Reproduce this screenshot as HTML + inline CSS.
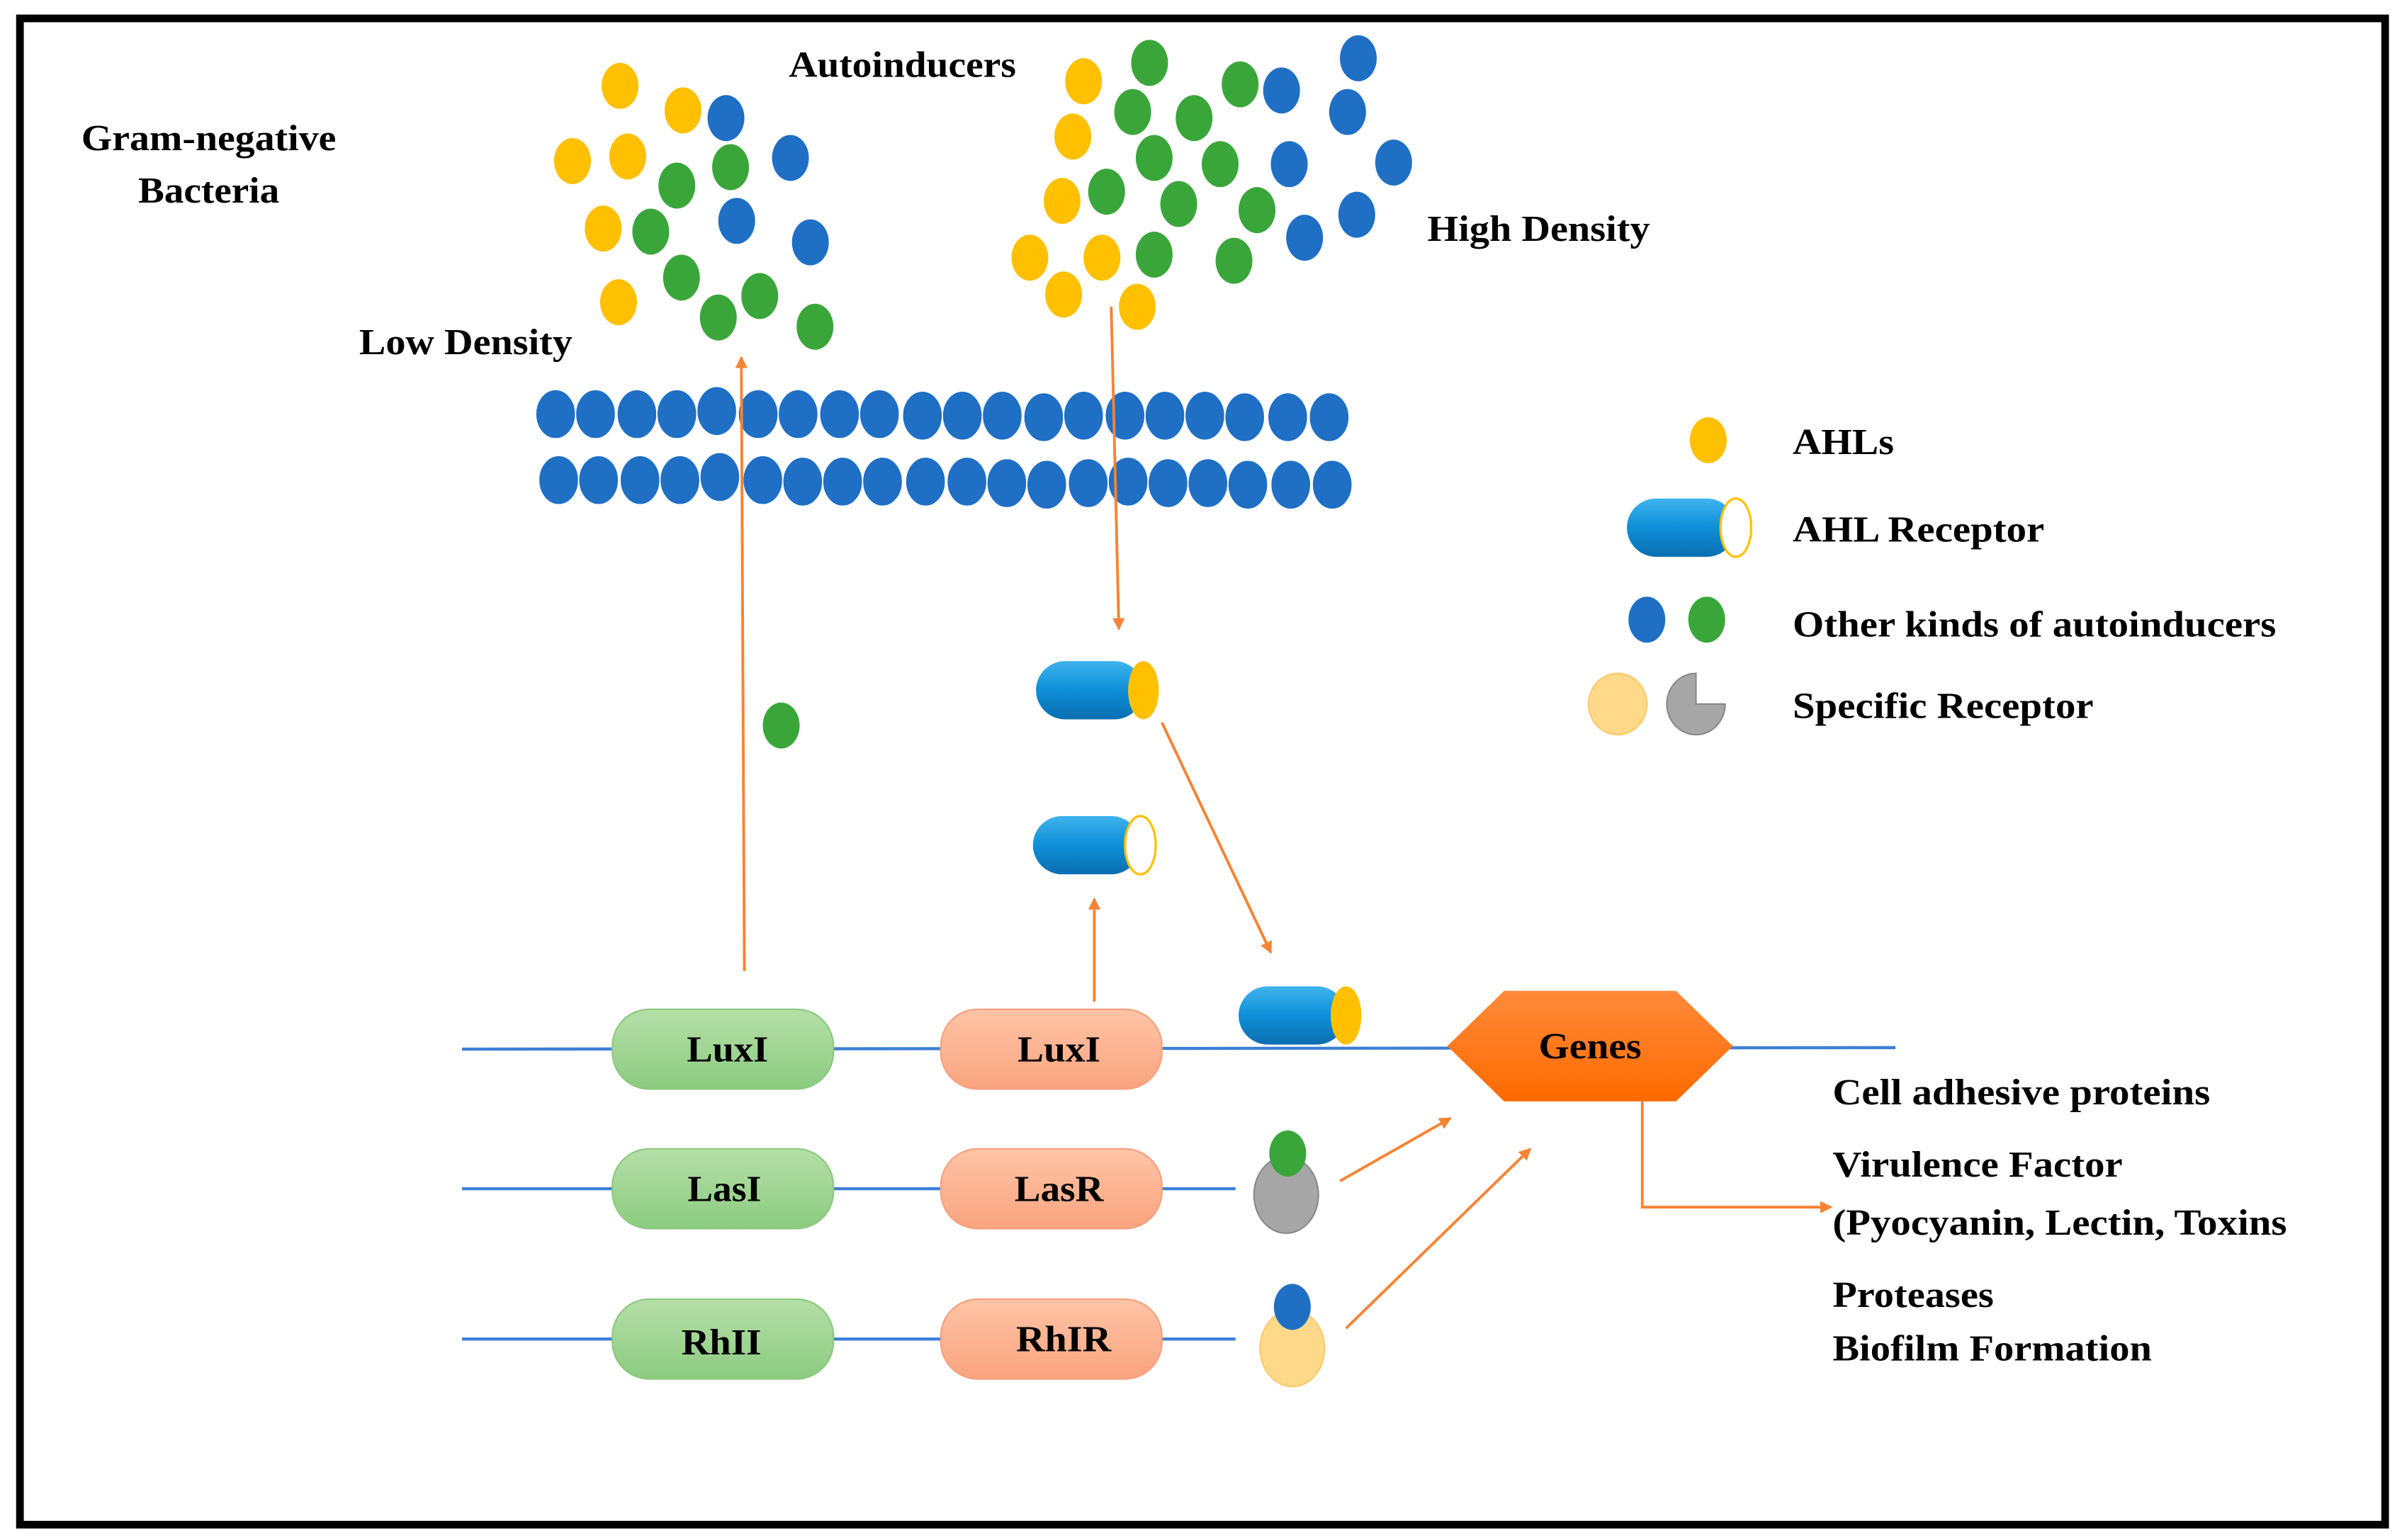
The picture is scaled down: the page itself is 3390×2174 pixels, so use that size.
<!DOCTYPE html>
<html><head><meta charset="utf-8"><style>html,body{margin:0;padding:0;background:#fff}svg{display:block}</style></head>
<body>
<svg width="3390" height="2174" viewBox="0 0 1565 1004" preserveAspectRatio="none" xmlns="http://www.w3.org/2000/svg">
<defs>
<linearGradient id="cyl" x1="0" y1="0" x2="0" y2="1"><stop offset="0" stop-color="#3FB4EE"/><stop offset="0.5" stop-color="#0E8FD8"/><stop offset="1" stop-color="#0A6FB0"/></linearGradient>
<linearGradient id="gr" x1="0" y1="0" x2="0" y2="1"><stop offset="0" stop-color="#B5DFA8"/><stop offset="1" stop-color="#8CCB80"/></linearGradient>
<linearGradient id="pk" x1="0" y1="0" x2="0" y2="1"><stop offset="0" stop-color="#FFC4A6"/><stop offset="1" stop-color="#F9A47F"/></linearGradient>
<linearGradient id="or" x1="0" y1="0" x2="0" y2="1"><stop offset="0" stop-color="#FF8A3A"/><stop offset="1" stop-color="#FF6A00"/></linearGradient>
<marker id="ah" markerWidth="8" markerHeight="8" refX="7" refY="4" orient="auto" markerUnits="userSpaceOnUse"><path d="M0,0 L8,4 L0,8 Z" fill="#F58434"/></marker>
</defs>
<rect x="13" y="12" width="1541" height="982" fill="#fff" stroke="#000" stroke-width="5"/>
<g font-family="Liberation Serif, serif" font-weight="bold" font-size="24" fill="#000" lengthAdjust="spacingAndGlyphs">
<text x="53" y="98" textLength="166" lengthAdjust="spacingAndGlyphs">Gram-negative</text>
<text x="90" y="132" textLength="92" lengthAdjust="spacingAndGlyphs">Bacteria</text>
<text x="514" y="50" textLength="148" lengthAdjust="spacingAndGlyphs">Autoinducers</text>
<text x="234" y="231" textLength="139" lengthAdjust="spacingAndGlyphs">Low Density</text>
<text x="930" y="157" textLength="145" lengthAdjust="spacingAndGlyphs">High Density</text>
<text x="1168" y="296" textLength="66" lengthAdjust="spacingAndGlyphs">AHLs</text>
<text x="1168" y="353" textLength="164" lengthAdjust="spacingAndGlyphs">AHL Receptor</text>
<text x="1168" y="415" textLength="315" lengthAdjust="spacingAndGlyphs">Other kinds of autoinducers</text>
<text x="1168" y="468" textLength="196" lengthAdjust="spacingAndGlyphs">Specific Receptor</text>
<text x="1194" y="720" textLength="246" lengthAdjust="spacingAndGlyphs">Cell adhesive proteins</text>
<text x="1194" y="767" textLength="189" lengthAdjust="spacingAndGlyphs">Virulence Factor</text>
<text x="1194" y="805" textLength="296" lengthAdjust="spacingAndGlyphs">(Pyocyanin, Lectin, Toxins</text>
<text x="1194" y="852" textLength="105" lengthAdjust="spacingAndGlyphs">Proteases</text>
<text x="1194" y="887" textLength="208" lengthAdjust="spacingAndGlyphs">Biofilm Formation</text>
</g>
<g fill="#FFC000">
<ellipse cx="404" cy="56" rx="12" ry="15"/><ellipse cx="445" cy="72" rx="12" ry="15"/><ellipse cx="373" cy="105" rx="12" ry="15"/><ellipse cx="409" cy="102" rx="12" ry="15"/><ellipse cx="393" cy="149" rx="12" ry="15"/><ellipse cx="403" cy="197" rx="12" ry="15"/>
<ellipse cx="706" cy="53" rx="12" ry="15"/><ellipse cx="699" cy="89" rx="12" ry="15"/><ellipse cx="692" cy="131" rx="12" ry="15"/><ellipse cx="671" cy="168" rx="12" ry="15"/><ellipse cx="718" cy="168" rx="12" ry="15"/><ellipse cx="693" cy="192" rx="12" ry="15"/><ellipse cx="741" cy="200" rx="12" ry="15"/>
<ellipse cx="1113" cy="287" rx="12" ry="15"/>
</g>
<g fill="#1F6FC5">
<ellipse cx="473" cy="77" rx="12" ry="15"/><ellipse cx="515" cy="103" rx="12" ry="15"/><ellipse cx="480" cy="144" rx="12" ry="15"/><ellipse cx="528" cy="158" rx="12" ry="15"/>
<ellipse cx="885" cy="38" rx="12" ry="15"/><ellipse cx="835" cy="59" rx="12" ry="15"/><ellipse cx="878" cy="73" rx="12" ry="15"/><ellipse cx="908" cy="106" rx="12" ry="15"/><ellipse cx="840" cy="107" rx="12" ry="15"/><ellipse cx="884" cy="140" rx="12" ry="15"/><ellipse cx="850" cy="155" rx="12" ry="15"/>
<ellipse cx="1073" cy="404" rx="12" ry="15"/>
</g>
<g fill="#3AA63A">
<ellipse cx="476" cy="109" rx="12" ry="15"/><ellipse cx="441" cy="121" rx="12" ry="15"/><ellipse cx="424" cy="151" rx="12" ry="15"/><ellipse cx="444" cy="181" rx="12" ry="15"/><ellipse cx="495" cy="193" rx="12" ry="15"/><ellipse cx="468" cy="207" rx="12" ry="15"/><ellipse cx="531" cy="213" rx="12" ry="15"/>
<ellipse cx="749" cy="41" rx="12" ry="15"/><ellipse cx="738" cy="73" rx="12" ry="15"/><ellipse cx="808" cy="55" rx="12" ry="15"/><ellipse cx="778" cy="77" rx="12" ry="15"/><ellipse cx="752" cy="103" rx="12" ry="15"/><ellipse cx="795" cy="107" rx="12" ry="15"/><ellipse cx="721" cy="125" rx="12" ry="15"/><ellipse cx="768" cy="133" rx="12" ry="15"/><ellipse cx="819" cy="137" rx="12" ry="15"/><ellipse cx="752" cy="166" rx="12" ry="15"/><ellipse cx="804" cy="170" rx="12" ry="15"/>
<ellipse cx="1112" cy="404" rx="12" ry="15"/>
<ellipse cx="509" cy="473" rx="12" ry="15"/>
</g>
<g fill="#1F6FC5" stroke="#fff" stroke-width="0.8">
<ellipse cx="362" cy="270" rx="13" ry="16"/><ellipse cx="388" cy="270" rx="13" ry="16"/><ellipse cx="415" cy="270" rx="13" ry="16"/><ellipse cx="441" cy="270" rx="13" ry="16"/><ellipse cx="467" cy="268" rx="13" ry="16"/><ellipse cx="494" cy="270" rx="13" ry="16"/><ellipse cx="520" cy="270" rx="13" ry="16"/><ellipse cx="547" cy="270" rx="13" ry="16"/><ellipse cx="573" cy="270" rx="13" ry="16"/><ellipse cx="601" cy="271" rx="13" ry="16"/><ellipse cx="627" cy="271" rx="13" ry="16"/><ellipse cx="653" cy="271" rx="13" ry="16"/><ellipse cx="680" cy="272" rx="13" ry="16"/><ellipse cx="706" cy="271" rx="13" ry="16"/><ellipse cx="733" cy="271" rx="13" ry="16"/><ellipse cx="759" cy="271" rx="13" ry="16"/><ellipse cx="785" cy="271" rx="13" ry="16"/><ellipse cx="811" cy="272" rx="13" ry="16"/><ellipse cx="839" cy="272" rx="13" ry="16"/><ellipse cx="866" cy="272" rx="13" ry="16"/>
<ellipse cx="364" cy="313" rx="13" ry="16"/><ellipse cx="390" cy="313" rx="13" ry="16"/><ellipse cx="417" cy="313" rx="13" ry="16"/><ellipse cx="443" cy="313" rx="13" ry="16"/><ellipse cx="469" cy="311" rx="13" ry="16"/><ellipse cx="497" cy="313" rx="13" ry="16"/><ellipse cx="523" cy="314" rx="13" ry="16"/><ellipse cx="549" cy="314" rx="13" ry="16"/><ellipse cx="575" cy="314" rx="13" ry="16"/><ellipse cx="603" cy="314" rx="13" ry="16"/><ellipse cx="630" cy="314" rx="13" ry="16"/><ellipse cx="656" cy="315" rx="13" ry="16"/><ellipse cx="682" cy="316" rx="13" ry="16"/><ellipse cx="709" cy="315" rx="13" ry="16"/><ellipse cx="735" cy="314" rx="13" ry="16"/><ellipse cx="761" cy="315" rx="13" ry="16"/><ellipse cx="787" cy="315" rx="13" ry="16"/><ellipse cx="813" cy="316" rx="13" ry="16"/><ellipse cx="841" cy="316" rx="13" ry="16"/><ellipse cx="868" cy="316" rx="13" ry="16"/>
</g>
<g><rect x="1060" y="325" width="71" height="38" rx="19" fill="url(#cyl)"/><ellipse cx="1131" cy="344" rx="10" ry="19" fill="#fff" stroke="#FFC000" stroke-width="1.5"/></g>
<ellipse cx="1054" cy="459" rx="19" ry="20" fill="#FFD98A" stroke="#FFC96A"/>
<path d="M1105,459 L1105,439 A19,20 0 1,0 1124,459 Z" fill="#A6A6A6" stroke="#8a8a8a"/>
<g stroke="#F58434" stroke-width="1.8" fill="none" marker-end="url(#ah)">
<line x1="485" y1="633" x2="483" y2="233"/>
<line x1="724" y1="200" x2="729" y2="410"/>
<line x1="757" y1="471" x2="828" y2="621"/>
<line x1="713" y1="653" x2="713" y2="586"/>
<line x1="873" y1="770" x2="945" y2="729"/>
<line x1="877" y1="866" x2="997" y2="749"/>
<polyline points="1070,718 1070,787 1193,787"/>
</g>
<g stroke="#3D7FD6" stroke-width="2">
<line x1="301" y1="684" x2="1235" y2="683"/>
<line x1="301" y1="775" x2="805" y2="775"/>
<line x1="301" y1="873" x2="805" y2="873"/>
</g>
<g font-family="Liberation Serif, serif" font-weight="bold" font-size="24" text-anchor="middle">
<rect x="399" y="658" width="144" height="52" rx="24" fill="url(#gr)" stroke="#8CC97E"/><text x="474" y="692" textLength="53" lengthAdjust="spacingAndGlyphs">LuxI</text>
<rect x="399" y="749" width="144" height="52" rx="24" fill="url(#gr)" stroke="#8CC97E"/><text x="472" y="783" textLength="48" lengthAdjust="spacingAndGlyphs">LasI</text>
<rect x="399" y="847" width="144" height="52" rx="24" fill="url(#gr)" stroke="#8CC97E"/><text x="470" y="883" textLength="52" lengthAdjust="spacingAndGlyphs">RhII</text>
<rect x="613" y="658" width="144" height="52" rx="24" fill="url(#pk)" stroke="#F6A07E"/><text x="690" y="692" textLength="54" lengthAdjust="spacingAndGlyphs">LuxI</text>
<rect x="613" y="749" width="144" height="52" rx="24" fill="url(#pk)" stroke="#F6A07E"/><text x="690" y="783" textLength="58" lengthAdjust="spacingAndGlyphs">LasR</text>
<rect x="613" y="847" width="144" height="52" rx="24" fill="url(#pk)" stroke="#F6A07E"/><text x="693" y="881" textLength="62" lengthAdjust="spacingAndGlyphs">RhIR</text>
<polygon points="943,682 980,646 1092,646 1129,682 1092,718 980,718" fill="url(#or)"/>
<text x="1036" y="690" fill="#000" textLength="67" lengthAdjust="spacingAndGlyphs">Genes</text>
</g>
<g><rect x="675" y="431" width="70" height="38" rx="19" fill="url(#cyl)"/><ellipse cx="745" cy="450" rx="10" ry="19" fill="#FFC000"/></g>
<g><rect x="673" y="532" width="70" height="38" rx="19" fill="url(#cyl)"/><ellipse cx="743" cy="551" rx="10" ry="19" fill="#fff" stroke="#FFC000" stroke-width="1.5"/></g>
<g><rect x="807" y="643" width="70" height="38" rx="19" fill="url(#cyl)"/><ellipse cx="877" cy="662" rx="10" ry="19" fill="#FFC000"/></g>
<ellipse cx="838" cy="779" rx="21" ry="25" fill="#A6A6A6" stroke="#8a8a8a"/>
<ellipse cx="839" cy="752" rx="12" ry="15" fill="#3AA63A"/>
<ellipse cx="842" cy="879" rx="21" ry="25" fill="#FFD98A" stroke="#FFC96A"/>
<ellipse cx="842" cy="852" rx="12" ry="15" fill="#1F6FC5"/>
</svg>
</body></html>
